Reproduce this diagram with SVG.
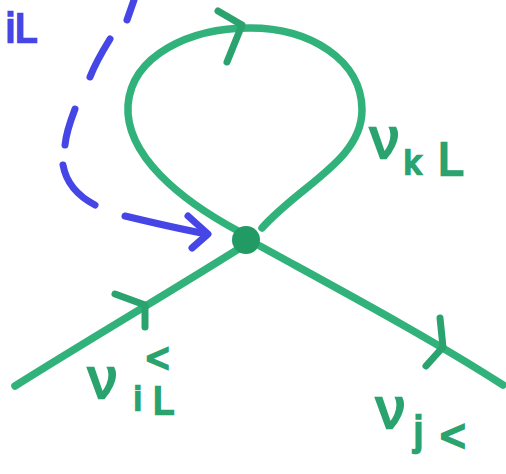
<svg xmlns="http://www.w3.org/2000/svg" width="506" height="474" viewBox="0 0 506 474">
<style>
.ln{fill:none;stroke:#30b27a;stroke-width:7.5;stroke-linecap:round;stroke-linejoin:round}
.ar{fill:none;stroke:#2aa36f;stroke-width:7;stroke-linecap:round;stroke-linejoin:round}
.bl{fill:none;stroke:#4646e6;stroke-width:7;stroke-linecap:round;stroke-linejoin:round}
.lab{font-family:"Liberation Sans",Arial,sans-serif;fill:#2aa36f;stroke:#2aa36f;stroke-width:2.5}
.blab{font-family:"Liberation Sans",Arial,sans-serif;fill:#4646e6;stroke:#4646e6;stroke-width:2.5}
</style>
<rect width="506" height="474" fill="#fff"/>
<g id="connectors">
  <path id="loop" class="ln" d="M 240 232 C 180 200, 125 155, 128 105 C 132 55, 190 28, 250 28 C 310 28, 362 60, 362 110 C 362 160, 300 185, 262 228"/>
  <path class="ar" d="M 218 11 L 242 25 L 227 62"/>
  <path id="nu-i" class="ln" d="M 15 386 C 80 345, 170 292, 240 248"/>
  <path class="ar" d="M 115 294 L 145 305 L 145 327"/>
  <path id="nu-j" class="ln" d="M 260 246 C 340 290, 430 338, 503 385"/>
  <path class="ar" d="M 440 318 L 443 347 L 426 366"/>
  <g id="blue-dashed">
    <path class="bl" d="M 127 20 L 134 0"/>
    <path class="bl" d="M 110 39 C 102 52, 95 64, 90 77"/>
    <path class="bl" d="M 75 109 C 70 122, 66 134, 65 145"/>
    <path class="bl" d="M 63 165 C 66 182, 78 196, 95 205"/>
    <path class="bl" d="M 125 216 C 150 222, 180 229, 207 234"/>
    <path class="bl" d="M 188 216 L 208 234 L 192 248"/>
  </g>
</g>
<g id="vertex">
  <circle cx="246" cy="240" r="14" fill="#219a63"/>
</g>
<g id="label-top">
  <text class="blab" x="6" y="42" font-size="40">iL</text>
</g>
<g id="label-k">
  <text class="lab" x="370" y="158" font-size="58">ν</text>
  <text class="lab" x="404" y="174" font-size="34">k</text>
  <text class="lab" x="438" y="175" font-size="46">L</text>
</g>
<g id="label-i">
  <text class="lab" x="88" y="398" font-size="58">ν</text>
  <text class="lab" x="134" y="410" font-size="34">i</text>
  <text class="lab" x="153" y="414" font-size="38">L</text>
  <text class="lab" x="146" y="372" font-size="40">&lt;</text>
</g>
<g id="label-j">
  <text class="lab" x="376" y="428" font-size="58">ν</text>
  <text class="lab" x="414" y="445" font-size="40">j</text>
  <text class="lab" x="440" y="451" font-size="44">&lt;</text>
</g>
</svg>
